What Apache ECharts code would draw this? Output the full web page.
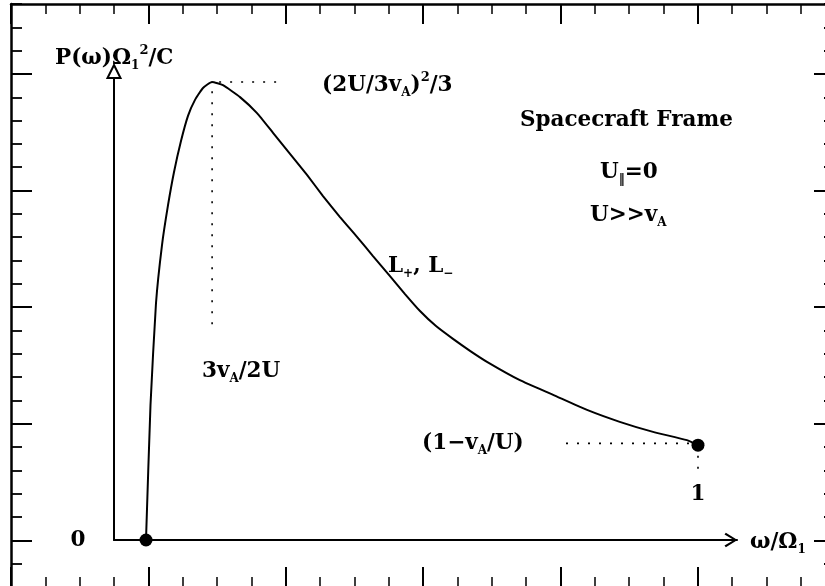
<!DOCTYPE html>
<html><head><meta charset="utf-8">
<script src="https://cdn.jsdelivr.net/npm/echarts@6/dist/echarts.min.js"></script>
<style>html,body{margin:0;padding:0;background:#fff}#c{width:825px;height:586px}</style>
</head><body><div id="c"></div>
<script>
// Curve: x = omega / Omega_1, y = P (normalised to the peak value)
const curveX = [0.0548,0.0625,0.0719,0.0822,0.0925,0.1027,0.1147,0.1267,0.1387,0.1524,0.1678,0.1866,0.2158,0.2449,0.2723,0.3014,0.3305,0.3579,0.3870,0.4161,0.4435,0.4726,0.4983,0.5240,0.5514,0.5805,0.6096,0.6387,0.695,0.752,0.810,0.866,0.923,0.981,1.000];
const curveY = [0,0.295,0.517,0.644,0.731,0.803,0.871,0.926,0.961,0.987,1.000,0.993,0.967,0.932,0.889,0.843,0.797,0.751,0.705,0.662,0.620,0.576,0.537,0.500,0.467,0.439,0.413,0.389,0.349,0.317,0.284,0.258,0.236,0.218,0.207];
// End points (filled dots)
const endX = [0.0548, 1.0];
const endY = [0, 0.207];
// Dotted guide lines
const guidePeakHX = [0.18, 0.285], guidePeakHY = [1.0, 1.0];
const guidePeakVX = [0.168, 0.168], guidePeakVY = [0.98, 0.452];
const guideEndHX = [0.774, 0.985], guideEndHY = [0.211, 0.211];
const guideEndVX = [1.0, 1.0], guideEndVY = [0.184, 0.155];
// Frame tick positions (in frame units)
const frameMajorY = [0, 5, 10, 15, 20];

const zip = (a, b) => a.map((v, i) => [v, b[i]]);
const FONT = 'DejaVu Serif';
const FS = 21.5;
const rich = {
  sub: {fontFamily: FONT, fontWeight: 'bold', fontSize: 12, lineHeight: 12, verticalAlign: 'bottom', fill: '#000'},
  sup: {fontFamily: FONT, fontWeight: 'bold', fontSize: 13, lineHeight: 13, verticalAlign: 'top', fill: '#000'}
};
function txt(text, x, y, align) {
  return {type: 'text', x: x, y: y, z: 100,
    style: {text: text, fontFamily: FONT, fontWeight: 'bold', fontSize: FS, lineHeight: 28,
      fill: '#000', align: align || 'left', verticalAlign: 'middle', rich: rich}};
}

const frameX = (pos) => ({gridIndex: 0, type: 'value', position: pos, min: 0, max: 24, interval: 4,
  axisLine: {show: true, onZero: false, lineStyle: {color: '#000', width: 2.5}},
  axisTick: {show: true, inside: true, length: 20, lineStyle: {color: '#000', width: 2}},
  minorTick: {show: true, splitNumber: 4, length: 10, lineStyle: {color: '#000', width: 1.5}},
  axisLabel: {show: false}, splitLine: {show: false}, minorSplitLine: {show: false}});
const frameYMinor = (pos) => ({gridIndex: 0, type: 'value', position: pos, min: -2, max: 23, interval: 1,
  axisLine: {show: true, onZero: false, lineStyle: {color: '#000', width: 2.5}},
  axisTick: {show: true, inside: true, length: 11, lineStyle: {color: '#000', width: 1.8}},
  axisLabel: {show: false}, splitLine: {show: false}});
const frameYMajor = (pos) => ({gridIndex: 0, type: 'value', position: pos, min: -2, max: 23, interval: 1,
  axisLine: {show: false, onZero: false},
  axisTick: {show: true, inside: true, length: 21, customValues: frameMajorY, lineStyle: {color: '#000', width: 2}},
  axisLabel: {show: false}, splitLine: {show: false}});

const dotted = {color: '#000', width: 1.6, type: [2, 9]};
const guide = (x, y) => ({type: 'line', xAxisIndex: 2, yAxisIndex: 4, data: zip(x, y), symbol: 'none',
  lineStyle: dotted, silent: true, z: 3});

const option = {
  animation: false,
  backgroundColor: '#fff',
  grid: [
    {left: 11, top: 4, width: 824, height: 583, outerBoundsMode: 'none', containLabel: false},
    {left: 114, top: 71.5, width: 623, height: 468.5, outerBoundsMode: 'none', containLabel: false}
  ],
  xAxis: [
    frameX('bottom'), frameX('top'),
    {gridIndex: 1, type: 'value', min: 0, max: 1.0668,
      axisLine: {show: true, onZero: false, symbol: ['none', 'path://M0,13 L8,0 L16,13 L14,14.5 L8,4 L2,14.5 Z'],
        symbolSize: [15, 13], symbolOffset: [0, -6], lineStyle: {color: '#000', width: 2}},
      axisTick: {show: false}, axisLabel: {show: false}, splitLine: {show: false}}
  ],
  yAxis: [
    frameYMinor('left'), frameYMajor('left'), frameYMinor('right'), frameYMajor('right'),
    {gridIndex: 1, type: 'value', min: 0, max: 1.0229,
      axisLine: {show: true, onZero: false, symbol: ['none', 'emptyTriangle'], symbolSize: [13, 13],
        lineStyle: {color: '#000', width: 2}},
      axisTick: {show: false}, axisLabel: {show: false}, splitLine: {show: false}}
  ],
  series: [
    {type: 'line', xAxisIndex: 2, yAxisIndex: 4, data: zip(curveX, curveY), symbol: 'none',
      smooth: 0.15, lineStyle: {color: '#000', width: 2}, z: 5},
    guide(guidePeakHX, guidePeakHY), guide(guidePeakVX, guidePeakVY),
    guide(guideEndHX, guideEndHY), guide(guideEndVX, guideEndVY),
    {type: 'scatter', xAxisIndex: 2, yAxisIndex: 4, data: zip(endX, endY), symbol: 'circle', symbolSize: 13,
      itemStyle: {color: '#000', opacity: 1}, z: 6}
  ],
  graphic: [
    txt('P(ω)Ω{sub|1}{sup|2}/C', 55, 58),
    txt('(2U/3v{sub|A}){sup|2}/3', 322, 85),
    txt('Spacecraft Frame', 520, 120),
    txt('U{sub|‖}=0', 600, 172),
    txt('U>>v{sub|A}', 590, 215),
    txt('L{sub|+}, L{sub|−}', 388, 266),
    txt('3v{sub|A}/2U', 202, 371),
    txt('(1−v{sub|A}/U)', 422, 443),
    txt('1', 698, 494, 'center'),
    txt('0', 78, 540, 'center'),
    txt('ω/Ω{sub|1}', 750, 542)
  ]
};
echarts.init(document.getElementById('c'), null, {renderer: 'canvas'}).setOption(option);
</script></body></html>
